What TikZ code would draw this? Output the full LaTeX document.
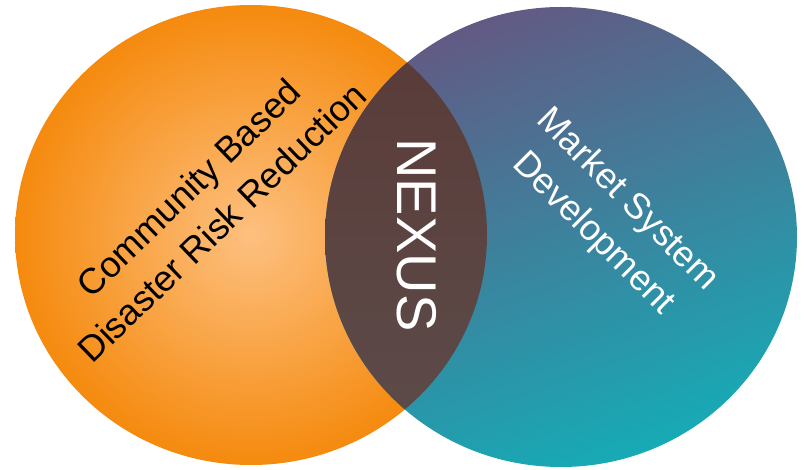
\documentclass[tikz,border=0pt]{standalone}
\usepackage{fontspec}
\setmainfont{Liberation Sans}
\usetikzlibrary{positioning}
\definecolor{cbdrredge}{HTML}{F58A0E}
\definecolor{cbdrrcore}{HTML}{FDC080}
\definecolor{msdtop}{HTML}{625A84}
\definecolor{msdbottom}{HTML}{16ABB6}
\definecolor{nexustop}{HTML}{5A3A37}
\definecolor{nexusbottom}{HTML}{5C4D4B}

\begin{document}
\begin{tikzpicture}[
    x=1pt, y=1pt,
    circletext/.style={
      align=center,
      inner sep=0pt,
      font=\fontsize{36}{48}\selectfont
    },
    nexustext/.style={
      inner sep=0pt,
      text=white,
      font=\fontsize{56}{60}\selectfont
    }
  ]
  \fill[white] (0,0) rectangle (812,469);
  \useasboundingbox (0,0) rectangle (812,469);

  \begin{scope}
    % the two sets
    \shade[inner color=cbdrrcore, outer color=cbdrredge] (251,234) ellipse (236pt and 230pt);
    \shade[top color=msdtop, bottom color=msdbottom, shading angle=20] (561,232) ellipse (236pt and 230pt);

    % overlap
    \begin{scope}
      \clip (251,234) ellipse (236pt and 230pt);
      \shade[top color=nexustop, bottom color=nexusbottom] (561,232) ellipse (236pt and 230pt);
    \end{scope}

    \node[circletext, rotate=44] (cbdrr) at (205,264) {Community Based\\Disaster Risk Reduction};
    \node[circletext, rotate=-45, text=white] (msd) at (610,252) {Market System\\Development};
    \node[nexustext, rotate=-90] (nexus) at (417,234) {NEXUS};
  \end{scope}
\end{tikzpicture}
\end{document}
